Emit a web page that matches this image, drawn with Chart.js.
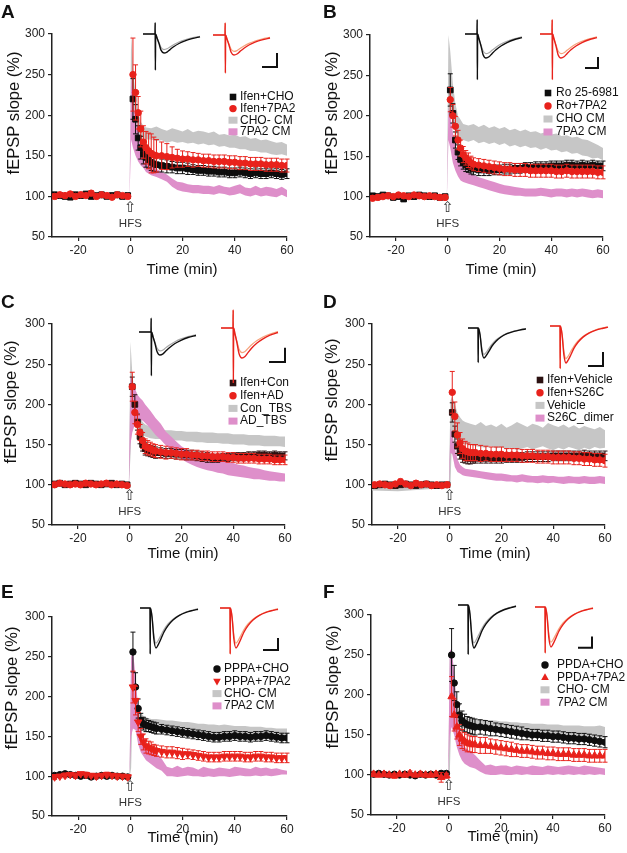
<!DOCTYPE html>
<html lang="en">
<head>
<meta charset="UTF-8">
<title>fEPSP slope after HFS</title>
<script src="https://cdn.jsdelivr.net/npm/chart.js@4.4.1/dist/chart.umd.min.js"></script>
<style>
  html, body { margin: 0; padding: 0; background: #fff; }
  #fig { position: relative; width: 627px; height: 853px; }
  #fig canvas { position: absolute; left: 0; top: 0; }
</style>
</head>
<body>
<div id="fig"></div>
<script>
// time points (min) for the averaged markers and for the shaded bands
const tMarks = [-29,-27,-25,-23,-21,-19,-17,-15,-13,-11,-9,-7,-5,-3,-1, 1,2,3,4,5,6,7,8,9,10, 12,14,16,18,20,22,24,26,28,30,32,34,36,38,40,42,44,46,48,50,52,54,56,58,60];
const tBand = [-30,-20,-10,-0.3, 0.3,1,2,3,4,5,6, 8,10,12,14,16,18,20,22,24,26,28,30,32,34,36,38,40,42,44,46,48,50,52,54,56,58,60];
const xTicks = [-20, 0, 20, 40, 60];

// panel A
const aLabels = ['Ifen+CHO', 'Ifen+7PA2', 'CHO- CM', '7PA2 CM'];
const aBlack = [102,101,100,99,102,101,103,100,101,102,100,101,102,100,101, 220,195,172,160,152,148,145,142,140,139, 138,137,136,135,135,134,133,132,132,131,131,130,130,129,129,130,129,128,129,128,128,129,128,127,128];
const aBlackErr = [3,2,3,2,3,3,2,3,2,3,2,3,2,3,3, 25,18,15,14,12,12,10,10,9,9, 8,8,7,7,7,7,6,6,6,6,6,6,6,6,6,6,6,6,6,6,6,6,6,6,6];
const aRed = [100,102,101,103,100,102,101,104,100,102,101,99,102,101,100, 250,228,203,183,167,160,156,153,151,150, 150,149,148,147,146,146,145,145,144,144,143,143,143,142,142,141,141,140,140,140,139,139,139,138,138];
const aRedErr = [3,2,3,3,2,3,2,3,3,2,3,2,3,2,3, 45,34,20,22,20,20,22,24,22,20, 17,16,13,11,10,9,9,8,8,8,8,8,8,8,8,8,8,8,8,8,8,8,8,8,8];
const aGreyLo = [97,98,97,98, 240,215,192,180,174,172,170, 170,168,169,166,168,166,167,165,166,164,165,163,164,161,162,160,160,158,158,156,156,154,154,152,151,152,150];
const aGreyHi = [104,105,104,104, 300,260,225,205,192,187,185, 184,186,183,181,184,182,180,183,179,181,180,178,180,176,177,175,176,173,174,171,172,169,170,168,166,167,164];
const aPinkLo = [98,99,98,98, 170,160,150,143,138,135,130, 126,124,121,118,112,108,106,105,104,104,103,103,102,104,103,101,102,104,101,100,102,100,101,100,99,102,99];
const aPinkHi = [102,103,102,103, 250,220,195,180,170,162,152, 140,134,130,127,122,118,117,115,114,114,113,113,112,114,112,111,113,115,111,110,113,110,112,111,109,112,108];

// panel B
const bLabels = ['Ro 25-6981', 'Ro+7PA2', 'CHO CM', '7PA2 CM'];
const bBlack = [101,100,102,101,99,100,97,101,100,102,101,100,101,99,100, 232,203,170,155,146,142,139,137,135,134, 133,133,132,133,133,134,134,135,135,136,136,137,137,137,138,138,138,139,139,138,139,138,139,138,138];
const bBlackErr = [2,3,2,2,3,2,3,2,2,3,2,2,3,2,2, 20,12,10,9,8,8,8,7,7,7, 7,7,6,6,6,6,6,6,6,6,6,6,6,6,6,6,6,6,6,6,6,6,6,6,6];
const bRed = [98,99,100,101,100,102,101,100,102,101,100,101,100,99,99, 220,200,187,170,160,152,148,145,142,140, 139,138,137,136,135,134,134,133,133,133,132,132,132,132,132,131,131,132,131,131,131,131,131,130,130];
const bRedErr = [3,3,2,3,2,2,3,2,2,3,2,2,2,3,3, 15,14,12,12,10,10,9,9,8,8, 8,8,8,8,8,8,8,8,8,8,8,8,8,8,8,8,8,8,8,8,8,8,8,8,8];
const bGreyLo = [98,97,98,98, 200,205,190,180,175,172,170, 168,170,166,168,165,167,164,166,162,164,161,163,160,161,158,160,157,158,155,156,153,154,151,150,147,148,145];
const bGreyHi = [103,104,103,103, 300,280,240,215,200,195,190, 188,190,186,189,185,187,184,186,182,184,181,183,180,181,178,180,177,178,175,176,173,174,171,170,167,164,160];
const bPinkLo = [98,99,98,98, 170,160,142,132,125,120,118, 116,114,112,110,108,106,104,103,102,101,101,100,100,100,101,100,99,100,100,99,100,99,100,99,98,99,98];
const bPinkHi = [102,102,102,102, 210,200,180,160,148,140,135, 130,127,124,122,120,118,116,114,113,112,111,110,110,110,111,110,109,110,110,109,110,109,110,109,108,109,108];

// panel C
const cLabels = ['Ifen+Con', 'Ifen+AD', 'Con_TBS', 'AD_TBS'];
const cBlack = [101,102,100,101,102,101,100,102,101,100,101,102,100,101,100, 222,200,178,160,150,145,143,142,141,140, 140,139,139,138,138,137,137,136,135,134,133,133,134,134,135,135,135,136,136,137,137,136,137,136,136];
const cBlackErr = [2,2,2,3,2,2,2,2,3,2,2,2,2,2,3, 12,12,10,9,8,8,7,7,7,7, 6,6,6,6,6,6,6,6,6,6,5,5,5,5,5,5,5,5,5,5,5,5,5,5,5];
const cRed = [100,102,101,100,101,100,102,101,100,101,102,100,101,100,99, 222,190,175,165,155,148,146,145,143,142, 141,140,140,139,138,138,137,137,136,136,135,135,135,134,134,133,133,133,133,132,132,132,131,131,131];
const cRedErr = [3,2,2,3,2,2,3,2,2,2,3,2,2,3,2, 18,14,12,10,10,9,9,8,8,8, 8,8,7,7,7,7,6,6,6,6,6,6,6,6,6,6,6,6,6,6,6,6,6,6,6];
const cGreyLo = [98,99,98,98, 135,200,180,170,165,162,160, 158,157,157,156,156,155,155,154,154,153,153,152,152,152,151,151,150,150,150,149,149,149,148,148,148,148,147];
const cGreyHi = [103,103,103,103, 278,240,210,195,185,178,175, 172,170,169,168,168,167,167,166,166,166,165,165,165,164,164,164,163,163,163,162,162,162,161,161,161,160,160];
const cPinkLo = [98,99,98,98, 150,165,175,178,180,180,177, 170,162,156,149,143,137,132,128,125,122,120,118,117,115,114,112,111,110,109,108,107,107,106,105,105,104,104];
const cPinkHi = [103,103,103,103, 235,228,220,212,208,205,200, 192,183,176,166,160,154,148,144,141,138,136,135,133,131,130,128,127,125,124,122,121,120,118,117,116,115,114];

// panel D
const dLabels = ['Ifen+Vehicle', 'Ifen+S26C', 'Vehicle', 'S26C_dimer'];
const dBlack = [99,100,101,100,99,100,101,100,99,100,101,100,99,100,100, 190,163,148,140,136,134,133,133,133,133, 133,133,133,133,133,134,134,134,134,135,135,135,135,135,136,136,136,136,136,136,137,136,136,136,136];
const dBlackErr = [2,2,3,2,2,2,3,2,2,2,3,2,2,2,2, 12,10,9,8,8,7,7,7,6,6, 6,6,6,6,6,6,6,6,6,6,6,6,6,6,6,6,6,6,6,6,6,6,6,6,6];
const dRed = [100,101,100,99,101,104,101,99,102,100,101,99,100,99,100, 215,185,162,152,145,142,141,140,140,140, 139,139,138,138,138,137,137,137,136,136,136,135,135,135,134,134,134,134,133,133,132,132,131,131,130];
const dRedErr = [3,2,2,3,2,3,2,2,3,2,2,3,2,2,3, 26,18,15,13,12,12,11,10,10,10, 10,9,9,9,9,8,8,8,8,8,8,8,8,8,8,8,8,8,8,8,8,8,8,8,8];
const dGreyLo = [93,92,94,96, 100,168,160,155,152,151,150, 150,148,147,146,148,145,147,144,146,143,145,147,144,146,148,145,143,146,144,147,145,143,146,144,147,145,146];
const dGreyHi = [100,101,101,102, 205,210,200,190,184,180,178, 176,174,178,173,175,172,176,171,174,178,175,172,176,174,171,177,174,172,175,171,174,170,173,171,169,172,168];
const dPinkLo = [98,98,98,98, 140,138,122,116,114,112,111, 110,109,108,107,106,105,105,104,104,103,104,103,103,102,103,102,103,102,101,102,102,101,102,101,101,102,101];
const dPinkHi = [102,102,102,102, 170,165,145,132,125,122,120, 119,118,117,116,115,114,114,113,112,112,113,112,111,111,112,111,111,110,110,111,110,110,111,110,110,111,110];

// panel E
const eLabels = ['PPPA+CHO', 'PPPA+7PA2', 'CHO- CM', '7PA2 CM'];
const eBlack = [101,102,103,102,101,100,101,99,100,101,100,101,100,100,99, 256,212,185,170,166,164,163,162,161,160, 159,158,157,156,155,154,153,152,151,150,149,149,150,150,151,150,150,149,150,150,151,150,149,148,148];
const eBlackErr = [2,2,3,2,2,2,3,2,2,2,3,2,2,2,2, 25,18,12,9,8,8,7,7,7,7, 6,6,6,6,6,6,6,6,6,6,6,6,6,6,6,6,6,6,6,6,6,6,6,6,6];
const eRed = [99,100,101,102,101,103,102,101,100,101,102,101,100,100,99, 212,195,168,150,143,138,136,135,133,132, 131,130,130,129,128,128,127,126,125,124,124,124,125,125,125,125,124,124,125,125,124,124,123,123,123];
const eRedErr = [3,2,3,2,3,2,3,2,3,2,3,2,3,2,3, 20,18,12,10,10,9,8,8,7,7, 7,7,7,7,7,6,6,6,6,6,6,6,6,6,6,6,6,6,6,6,6,6,6,6,6];
const eGreyLo = [98,99,98,98, 110,200,180,165,162,161,160, 160,159,158,158,157,156,156,155,155,154,154,153,153,152,152,152,151,151,151,150,150,150,150,150,150,150,150];
const eGreyHi = [103,104,103,103, 250,250,212,190,180,176,174, 172,172,171,170,170,169,168,168,167,166,166,165,165,164,165,164,163,163,163,162,162,162,161,161,160,160,160];
const ePinkLo = [99,99,99,99, 150,160,158,140,130,125,120, 115,110,107,100,100,99,100,101,100,100,99,100,99,100,100,99,100,101,100,100,101,100,101,100,101,102,102];
const ePinkHi = [102,102,102,102, 250,258,225,185,160,150,142, 135,130,122,112,110,113,110,112,111,108,112,110,109,111,110,109,112,111,110,109,112,110,111,109,110,108,107];

// panel F
const fLabels = ['PPDA+CHO', 'PPDA+7PA2', 'CHO- CM', '7PA2 CM'];
const fBlack = [101,102,101,100,101,100,101,100,99,101,100,101,100,102,102, 250,215,188,175,168,165,163,162,161,160, 160,159,158,157,156,155,154,153,152,151,150,150,149,149,148,148,147,146,146,145,145,144,143,142,141];
const fBlackErr = [2,2,2,3,2,2,3,2,2,2,3,2,2,3,2, 33,22,16,14,12,11,10,10,10,10, 9,9,9,8,8,8,8,8,8,7,7,7,7,7,7,7,7,7,7,7,7,7,7,7,7];
const fRed = [101,100,101,100,99,101,100,102,100,101,100,100,101,97,99, 198,175,160,150,145,142,140,139,138,138, 137,137,136,135,134,133,132,131,130,130,129,128,128,127,127,126,126,126,125,125,125,124,124,124,124];
const fRedErr = [3,2,3,2,3,2,2,3,2,3,2,2,3,6,3, 25,20,15,13,12,11,11,10,10,10, 10,10,9,9,9,9,9,8,8,8,8,8,8,8,8,8,8,8,8,8,8,8,8,8,8];
const fGreyLo = [98,99,98,98, 100,190,170,162,160,159,158, 157,157,156,156,155,154,153,152,152,151,151,150,150,150,149,149,149,148,148,148,148,148,147,147,147,147,146];
const fGreyHi = [103,103,103,103, 255,240,225,190,178,174,172, 170,170,170,169,168,168,167,167,166,166,165,165,164,164,164,163,163,163,162,162,162,162,161,161,161,162,160];
const fPinkLo = [99,99,99,99, 150,160,150,135,125,118,114, 110,108,104,101,100,100,101,100,100,101,100,101,100,100,100,101,100,101,100,101,100,101,100,101,100,101,100];
const fPinkHi = [102,102,102,102, 255,258,228,178,155,142,135, 130,125,118,112,113,111,112,112,110,112,111,110,112,111,110,112,111,110,111,112,111,110,112,111,110,109,108];

// example fEPSP traces (inset), normalised so the post-HFS dip is -1
const shT = [0,12,12.2,12.4,12.6,14,16,18,21,24,27,31,36,42,49,57];
const shPre = [0,0,0.6,-1.9,0,-0.2,-0.45,-0.7,-0.82,-0.78,-0.68,-0.55,-0.42,-0.3,-0.2,-0.12];
const shPost = [0,0,0.6,-1.9,0,-0.2,-0.5,-0.85,-1.0,-0.95,-0.82,-0.66,-0.5,-0.36,-0.24,-0.15];
const dpT = [0,10,10.2,10.4,12,14,16,18,21,24,28,33,39,46,53,58];
const dpPre = [0,0,-1.15,0,-0.2,-0.7,-0.88,-0.82,-0.68,-0.54,-0.4,-0.28,-0.18,-0.1,-0.05,-0.02];
const dpPost = [0,0,-1.15,0,-0.22,-0.8,-1.0,-0.93,-0.77,-0.6,-0.44,-0.3,-0.19,-0.11,-0.06,-0.03];

const FONT = "'Liberation Sans', Arial, Helvetica, sans-serif";
const RED = '#e8221c', BLACK = '#0e0e0e', BROWN = '#2b1111';
const GREY = '#c6c6c6', PINK = '#de8fca';
const RED_PRE = '#f6a27c', BLACK_PRE = '#a8a8a8';
const W = 627, H = 853;

const panels = [
  { id: 'A', area: [52, 287, 34, 237], labels: aLabels, black: aBlack, blackErr: aBlackErr, red: aRed, redErr: aRedErr,
    greyLo: aGreyLo, greyHi: aGreyHi, pinkLo: aPinkLo, pinkHi: aPinkHi, blackColor: BLACK, blackStyle: 'rect', redStyle: 'circle',
    letter: [1, 18], yTitle: [14, 113], xTitle: [182, 274], legend: { mx: 233, tx: 240, y: 97, dy: 11.6 },
    trace: 'sh', inBlack: { l: 143, base: 34, gain: 19 }, inRed: { l: 213, base: 35, gain: 20 }, bar: { x: 49, y: -1.6, dx: 15, dy: 0.7 } },
  { id: 'B', area: [370, 603, 35, 237], labels: bLabels, black: bBlack, blackErr: bBlackErr, red: bRed, redErr: bRedErr,
    greyLo: bGreyLo, greyHi: bGreyHi, pinkLo: bPinkLo, pinkHi: bPinkHi, blackColor: BLACK, blackStyle: 'rect', redStyle: 'circle',
    letter: [323, 18], yTitle: [332, 113], xTitle: [501, 274], legend: { mx: 548, tx: 556, y: 93, dy: 13 },
    trace: 'sh', inBlack: { l: 465, base: 34, gain: 24 }, inRed: { l: 540, base: 34, gain: 24 }, bar: { x: 45, y: -1.42, dx: 13, dy: 0.46 } },
  { id: 'C', area: [52, 285, 324, 525], labels: cLabels, black: cBlack, blackErr: cBlackErr, red: cRed, redErr: cRedErr,
    greyLo: cGreyLo, greyHi: cGreyHi, pinkLo: cPinkLo, pinkHi: cPinkHi, blackColor: BROWN, blackStyle: 'rect', redStyle: 'circle',
    letter: [1, 308], yTitle: [11, 402], xTitle: [183, 558], legend: { mx: 233, tx: 240, y: 383, dy: 12.7 },
    trace: 'sh', inBlack: { l: 139, base: 332, gain: 23 }, inRed: { l: 221, base: 328, gain: 30 }, bar: { x: 48, y: -1.13, dx: 16, dy: 0.47 } },
  { id: 'D', area: [372, 605, 324, 525], labels: dLabels, black: dBlack, blackErr: dBlackErr, red: dRed, redErr: dRedErr,
    greyLo: dGreyLo, greyHi: dGreyHi, pinkLo: dPinkLo, pinkHi: dPinkHi, blackColor: BROWN, blackStyle: 'rect', redStyle: 'circle',
    letter: [323, 308], yTitle: [332, 400], xTitle: [495, 558], legend: { mx: 540, tx: 547, y: 380, dy: 12.7 },
    trace: 'dp', inBlack: { l: 468, base: 328, gain: 30 }, inRed: { l: 550, base: 326, gain: 37 }, bar: { x: 38, y: -1.08, dx: 15, dy: 0.38 } },
  { id: 'E', area: [52, 287, 617, 816], labels: eLabels, black: eBlack, blackErr: eBlackErr, red: eRed, redErr: eRedErr,
    greyLo: eGreyLo, greyHi: eGreyHi, pinkLo: ePinkLo, pinkHi: ePinkHi, blackColor: BLACK, blackStyle: 'circle', redStyle: 'triDown',
    letter: [1, 598], yTitle: [12, 688], xTitle: [183, 842], legend: { mx: 217, tx: 224, y: 669, dy: 12.3 },
    trace: 'dp', inBlack: { l: 140, base: 608, gain: 40 }, inRed: { l: 220, base: 608, gain: 40 }, bar: { x: 43, y: -1.05, dx: 15, dy: 0.3 } },
  { id: 'F', area: [371, 605, 615, 815], labels: fLabels, black: fBlack, blackErr: fBlackErr, red: fRed, redErr: fRedErr,
    greyLo: fGreyLo, greyHi: fGreyHi, pinkLo: fPinkLo, pinkHi: fPinkHi, blackColor: BLACK, blackStyle: 'circle', redStyle: 'triUp',
    letter: [323, 598], yTitle: [333, 687], xTitle: [503, 841], legend: { mx: 545, tx: 557, y: 665, dy: 12.4 },
    trace: 'dp', inBlack: { l: 458, base: 605, gain: 43 }, inRed: { l: 535, base: 607, gain: 40 }, bar: { x: 43, y: -1.02, dx: 14, dy: 0.28 } }
];

const markStyle = {
  rect: { pointStyle: 'rect', pointRadius: 4, pointRotation: 0 },
  circle: { pointStyle: 'circle', pointRadius: 3.2, pointRotation: 0 },
  triUp: { pointStyle: 'triangle', pointRadius: 4.3, pointRotation: 0 },
  triDown: { pointStyle: 'triangle', pointRadius: 4.3, pointRotation: 180 }
};

function pts(xs, ys) {
  return xs.map((x, i) => ({ x: x, y: ys[i] }));
}

function addCanvas() {
  const c = document.createElement('canvas');
  c.width = W;
  c.height = H;
  document.getElementById('fig').appendChild(c);
  return c;
}

function drawMark(ctx, style, x, y, color) {
  ctx.fillStyle = color;
  ctx.beginPath();
  if (style === 'rect') ctx.rect(x - 3.3, y - 3.3, 6.6, 6.6);
  else if (style === 'circle') ctx.arc(x, y, 3.7, 0, Math.PI * 2);
  else if (style === 'triUp') { ctx.moveTo(x, y - 4.2); ctx.lineTo(x + 3.8, y + 2.6); ctx.lineTo(x - 3.8, y + 2.6); }
  else { ctx.moveTo(x, y + 4.2); ctx.lineTo(x + 3.8, y - 2.6); ctx.lineTo(x - 3.8, y - 2.6); }
  ctx.closePath();
  ctx.fill();
}

// vertical SEM bars, drawn right after each marker dataset
const errPlugin = {
  id: 'errBars',
  afterDatasetDraw(chart, args) {
    const ds = chart.data.datasets[args.index];
    if (!ds.errors) return;
    const ys = chart.scales.y, ctx = chart.ctx;
    ctx.save();
    ctx.strokeStyle = ds.borderColor;
    ctx.lineWidth = 1;
    args.meta.data.forEach((pt, i) => {
      const v = ds.data[i].y, e = ds.errors[i];
      const y1 = ys.getPixelForValue(v + e), y2 = ys.getPixelForValue(v - e);
      ctx.beginPath();
      ctx.moveTo(pt.x, y1); ctx.lineTo(pt.x, y2);
      ctx.moveTo(pt.x - 2.5, y1); ctx.lineTo(pt.x + 2.5, y1);
      ctx.moveTo(pt.x - 2.5, y2); ctx.lineTo(pt.x + 2.5, y2);
      ctx.stroke();
    });
    ctx.restore();
  }
};

// panel letter, axis titles, HFS arrow and legend
function decoPlugin(p) {
  return {
    id: 'deco' + p.id,
    afterDraw(chart) {
      const ctx = chart.ctx, xs = chart.scales.x, ys = chart.scales.y;
      ctx.save();
      ctx.fillStyle = '#111';
      ctx.textAlign = 'left';
      ctx.textBaseline = 'alphabetic';
      ctx.font = 'bold 19px ' + FONT;
      ctx.fillText(p.id, p.letter[0], p.letter[1]);

      ctx.textAlign = 'center';
      ctx.font = '15px ' + FONT;
      ctx.fillText('Time (min)', p.xTitle[0], p.xTitle[1]);

      ctx.save();
      ctx.translate(p.yTitle[0], p.yTitle[1]);
      ctx.rotate(-Math.PI / 2);
      ctx.textBaseline = 'middle';
      ctx.font = '16.5px ' + FONT;
      ctx.fillText('fEPSP slope (%)', 0, 0);
      ctx.restore();

      const x0 = xs.getPixelForValue(0);
      ctx.textBaseline = 'middle';
      ctx.fillStyle = '#333';
      ctx.font = "15px 'DejaVu Sans'";
      ctx.fillText('\u21E7', x0, ys.getPixelForValue(86));
      ctx.font = '11.5px ' + FONT;
      ctx.fillText('HFS', x0, ys.getPixelForValue(66));

      const lg = p.legend;
      ctx.textAlign = 'left';
      ctx.font = '12px ' + FONT;
      p.labels.forEach((txt, i) => {
        const y = lg.y + i * lg.dy;
        if (i === 0) drawMark(ctx, p.blackStyle, lg.mx, y, p.blackColor);
        else if (i === 1) drawMark(ctx, p.redStyle, lg.mx, y, RED);
        else {
          ctx.fillStyle = i === 2 ? GREY : PINK;
          ctx.fillRect(lg.mx - 4.5, y - 3.5, 9, 7);
        }
        ctx.fillStyle = '#111';
        ctx.fillText(txt, lg.tx, y);
      });
      ctx.restore();
    }
  };
}

const tickFont = { family: FONT, size: 12 };
const axisGrid = { display: true, drawOnChartArea: false, drawTicks: true, tickLength: 4, color: '#222', lineWidth: 1.2 };
const axisBorder = { display: true, color: '#222', width: 1.5 };
const clear = 'rgba(0,0,0,0)';

function mainChart(p) {
  const [l, r, t, b] = p.area;
  new Chart(addCanvas(), {
    type: 'line',
    data: {
      datasets: [
        Object.assign({ data: pts(tMarks, p.red), errors: p.redErr, showLine: false, backgroundColor: RED, borderColor: RED, pointBorderWidth: 1 }, markStyle[p.redStyle]),
        Object.assign({ data: pts(tMarks, p.black), errors: p.blackErr, showLine: false, backgroundColor: p.blackColor, borderColor: p.blackColor, pointBorderWidth: 1 }, markStyle[p.blackStyle]),
        { data: pts(tBand, p.pinkHi), fill: 3, backgroundColor: PINK, borderColor: clear, pointRadius: 0, tension: 0 },
        { data: pts(tBand, p.pinkLo), fill: false, borderColor: clear, pointRadius: 0, tension: 0 },
        { data: pts(tBand, p.greyHi), fill: 5, backgroundColor: GREY, borderColor: clear, pointRadius: 0, tension: 0 },
        { data: pts(tBand, p.greyLo), fill: false, borderColor: clear, pointRadius: 0, tension: 0 }
      ]
    },
    options: {
      responsive: false,
      animation: false,
      events: [],
      layout: { padding: { left: l - 40, right: W - r, top: t, bottom: H - b - 30 } },
      plugins: { legend: { display: false }, tooltip: { enabled: false } },
      scales: {
        x: {
          type: 'linear', min: -30, max: 60,
          afterBuildTicks: s => { s.ticks = xTicks.map(v => ({ value: v })); },
          afterFit: s => { s.height = 30; },
          ticks: { font: tickFont, color: '#222', padding: 2, maxRotation: 0, autoSkip: false },
          grid: axisGrid, border: axisBorder
        },
        y: {
          min: 50, max: 300,
          afterFit: s => { s.width = 40; },
          ticks: { stepSize: 50, font: tickFont, color: '#222', padding: 3 },
          grid: axisGrid, border: axisBorder
        }
      }
    },
    plugins: [errPlugin, decoPlugin(p)]
  });
}

function insetChart(spec, T, pre, post, colPost, colPre, bar) {
  const datasets = [];
  if (bar) {
    datasets.push({
      data: [{ x: bar.x, y: bar.y }, { x: bar.x + bar.dx, y: bar.y }, { x: bar.x + bar.dx, y: bar.y + bar.dy }],
      borderColor: '#111', borderWidth: 2, tension: 0, pointRadius: 0, fill: false
    });
  }
  datasets.push({ data: pts(T, post), borderColor: colPost, borderWidth: 1.4, cubicInterpolationMode: 'monotone', pointRadius: 0, fill: false });
  datasets.push({ data: pts(T, pre), borderColor: colPre, borderWidth: 1.2, cubicInterpolationMode: 'monotone', pointRadius: 0, fill: false });
  new Chart(addCanvas(), {
    type: 'line',
    data: { datasets: datasets },
    options: {
      responsive: false,
      animation: false,
      events: [],
      layout: { padding: { left: spec.l - 2, right: W - (spec.l + 70), top: spec.base - 20, bottom: H - (spec.base + 55) } },
      plugins: { legend: { display: false }, tooltip: { enabled: false } },
      scales: {
        x: { type: 'linear', display: false, min: -2, max: 70 },
        y: { display: false, min: -55 / spec.gain, max: 20 / spec.gain }
      }
    }
  });
}

panels.forEach(p => {
  mainChart(p);
  const T = p.trace === 'sh' ? shT : dpT;
  const pre = p.trace === 'sh' ? shPre : dpPre;
  const post = p.trace === 'sh' ? shPost : dpPost;
  insetChart(p.inBlack, T, pre, post, BLACK, BLACK_PRE, null);
  insetChart(p.inRed, T, pre, post, RED, RED_PRE, p.bar);
});
</script>
</body>
</html>
